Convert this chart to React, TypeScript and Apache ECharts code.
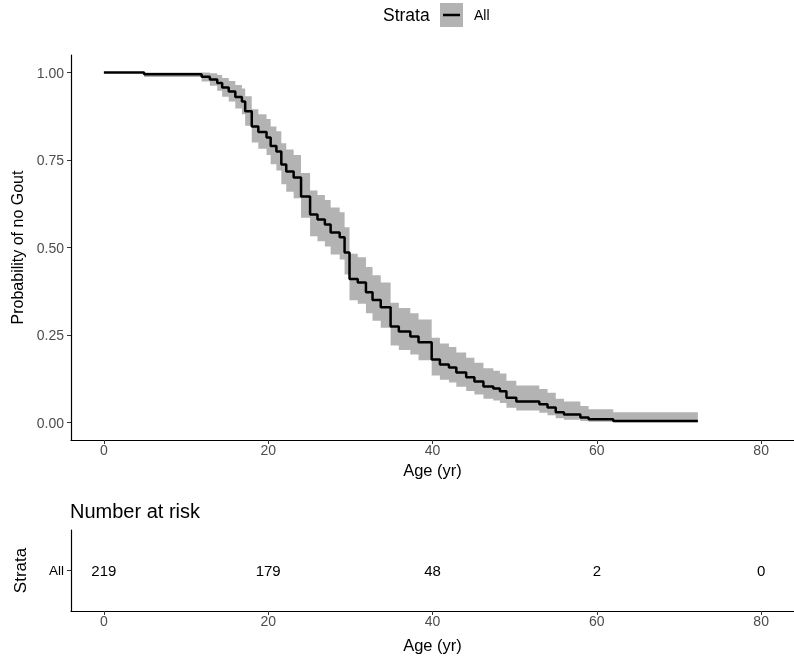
import React, { useEffect, useRef } from "react";
import * as echarts from "echarts";

// Kaplan-Meier step points (age in years, survival probability, 95% CI)
const times = [0, 4.9, 11.9, 12.9, 13.8, 14.4, 15.2, 16.0, 16.8, 17.2, 18.0, 18.8, 19.8, 20.3, 21.0, 21.6, 22.2, 23.1, 24.0, 25.1, 26.0, 26.9, 27.6, 28.7, 29.3, 29.9, 30.9, 31.9, 32.7, 33.7, 34.9, 35.9, 37.3, 38.3, 39.9, 40.9, 42.0, 42.9, 44.1, 45.1, 46.2, 47.4, 48.2, 49.0, 50.2, 53.0, 54.0, 55.0, 56.0, 58.0, 59.0, 62.0];
const surv = [1.0, 0.995, 0.988, 0.98, 0.97, 0.957, 0.946, 0.93, 0.917, 0.889, 0.846, 0.83, 0.814, 0.79, 0.774, 0.737, 0.717, 0.7, 0.646, 0.594, 0.58, 0.566, 0.543, 0.529, 0.486, 0.41, 0.4, 0.372, 0.35, 0.329, 0.274, 0.26, 0.246, 0.229, 0.18, 0.166, 0.157, 0.143, 0.129, 0.117, 0.103, 0.097, 0.089, 0.071, 0.06, 0.052, 0.043, 0.029, 0.023, 0.014, 0.009, 0.004];
const lower = [1.0, 0.987, 0.974, 0.962, 0.948, 0.931, 0.917, 0.897, 0.881, 0.848, 0.8, 0.782, 0.764, 0.738, 0.72, 0.681, 0.659, 0.641, 0.585, 0.532, 0.518, 0.503, 0.48, 0.466, 0.423, 0.349, 0.339, 0.312, 0.291, 0.271, 0.22, 0.207, 0.194, 0.178, 0.134, 0.122, 0.114, 0.102, 0.09, 0.08, 0.068, 0.063, 0.056, 0.042, 0.034, 0.028, 0.021, 0.012, 0.008, 0.004, 0.002, 0.001];
const upper = [1.0, 1.0, 1.0, 0.998, 0.993, 0.984, 0.976, 0.964, 0.954, 0.932, 0.895, 0.881, 0.867, 0.846, 0.832, 0.798, 0.78, 0.764, 0.713, 0.663, 0.65, 0.636, 0.614, 0.601, 0.558, 0.482, 0.472, 0.444, 0.421, 0.4, 0.342, 0.327, 0.312, 0.294, 0.242, 0.226, 0.216, 0.2, 0.185, 0.171, 0.155, 0.148, 0.14, 0.119, 0.106, 0.096, 0.085, 0.068, 0.06, 0.047, 0.038, 0.029];
const endTime = 72.3;

const xTicks = [0, 20, 40, 60, 80];
const yTicks = [0, 0.25, 0.5, 0.75, 1.0];
const strata = ["All"];
const riskTimes = [0, 20, 40, 60, 80];
const riskCounts = [219, 179, 48, 2, 0];

const FONT = "'Liberation Sans', Arial, Helvetica, sans-serif";
const TICK_COLOR = "#4d4d4d";

export default function App() {
  const ref = useRef<HTMLDivElement>(null);

  useEffect(() => {
    if (!ref.current) return;
    const chart = echarts.init(ref.current, null, { renderer: "svg" });

    const lineData = times.map((t, i) => [t, surv[i]]);
    lineData.push([endTime, surv[surv.length - 1]]);

    const axisLineStyle = { color: "#000", width: 1.2 };

    const xAxisBase = (gridIndex: number) => ({
      type: "value",
      gridIndex,
      min: -4,
      max: 84,
      splitLine: { show: false },
      axisLine: { show: true, onZero: false, lineStyle: axisLineStyle },
      axisTick: { show: true, length: 4, lineStyle: { color: "#333", width: 1 }, customValues: xTicks },
      axisLabel: { show: true, customValues: xTicks, margin: 3, fontSize: 14, color: TICK_COLOR, fontFamily: FONT, formatter: (v: number) => String(v) },
      name: "Age (yr)",
      nameLocation: "middle",
      nameTextStyle: { fontSize: 16.5, color: "#000", fontFamily: FONT },
    });

    const option: any = {
      animation: false,
      textStyle: { fontFamily: FONT },
      grid: [
        { left: 71, right: -6, top: 55, height: 385 },
        { left: 71, right: -6, top: 530, height: 81 },
      ],
      xAxis: [
        { ...xAxisBase(0), nameGap: 16 },
        { ...xAxisBase(1), nameGap: 25 },
      ],
      yAxis: [
        {
          type: "value",
          gridIndex: 0,
          min: -0.05,
          max: 1.05,
          splitLine: { show: false },
          axisLine: { show: true, onZero: false, lineStyle: axisLineStyle },
          axisTick: { show: true, length: 4, lineStyle: { color: "#333", width: 1 }, customValues: yTicks },
          axisLabel: { show: true, customValues: yTicks, margin: 7, fontSize: 14, color: TICK_COLOR, fontFamily: FONT, formatter: (v: number) => v.toFixed(2) },
          name: "Probability of no Gout",
          nameLocation: "middle",
          nameGap: 41,
          nameTextStyle: { fontSize: 16, color: "#000", fontFamily: FONT },
        },
        {
          type: "category",
          gridIndex: 1,
          data: strata,
          splitLine: { show: false },
          axisLine: { show: true, onZero: false, lineStyle: axisLineStyle },
          axisTick: { show: true, length: 4, alignWithLabel: true, lineStyle: { color: "#333", width: 1 } },
          axisLabel: { show: true, margin: 7, fontSize: 13.5, color: "#000", fontFamily: FONT },
          name: "Strata",
          nameLocation: "middle",
          nameGap: 42,
          nameTextStyle: { fontSize: 17, color: "#000", fontFamily: FONT },
        },
      ],
      series: [
        {
          type: "custom",
          xAxisIndex: 0,
          yAxisIndex: 0,
          data: [[0, 1]],
          silent: true,
          renderItem: (params: any, api: any) => {
            const n = times.length;
            const pts: number[][] = [];
            for (let i = 0; i < n; i++) {
              const x0 = times[i];
              const x1 = i < n - 1 ? times[i + 1] : endTime;
              pts.push(api.coord([x0, upper[i]]));
              pts.push(api.coord([x1, upper[i]]));
            }
            for (let i = n - 1; i >= 0; i--) {
              const x0 = times[i];
              const x1 = i < n - 1 ? times[i + 1] : endTime;
              pts.push(api.coord([x1, lower[i]]));
              pts.push(api.coord([x0, lower[i]]));
            }
            return { type: "polygon", shape: { points: pts }, style: { fill: "#b3b3b3" } };
          },
          z: 1,
        },
        {
          type: "line",
          xAxisIndex: 0,
          yAxisIndex: 0,
          data: lineData,
          step: "end",
          showSymbol: false,
          symbol: "none",
          lineStyle: { color: "#000", width: 2.5 },
          z: 3,
        },
        {
          type: "custom",
          xAxisIndex: 1,
          yAxisIndex: 1,
          data: riskTimes.map((t, i) => [t, 0, riskCounts[i]]),
          renderItem: (params: any, api: any) => {
            const p = api.coord([api.value(0), api.value(1)]);
            return {
              type: "text",
              x: p[0],
              y: p[1],
              style: { text: String(api.value(2)), fontSize: 15, fill: "#000", fontFamily: FONT, align: "center", verticalAlign: "middle" },
            };
          },
        },
      ],
      graphic: [
        { type: "text", left: 383, top: 6, style: { text: "Strata", fontSize: 17.5, fill: "#000", fontFamily: FONT } },
        { type: "rect", shape: { x: 440, y: 3, width: 23, height: 24 }, style: { fill: "#b3b3b3" } },
        { type: "line", shape: { x1: 443, y1: 15, x2: 460, y2: 15 }, style: { stroke: "#000", lineWidth: 2.5 } },
        { type: "text", left: 474, top: 8, style: { text: "All", fontSize: 14, fill: "#000", fontFamily: FONT } },
        { type: "text", left: 70, top: 501, style: { text: "Number at risk", fontSize: 20, fill: "#000", fontFamily: FONT } },
      ],
    };

    chart.setOption(option);
    return () => chart.dispose();
  }, []);

  return <div ref={ref} style={{ position: "fixed", left: 0, top: 0, width: 794, height: 656 }} />;
}
